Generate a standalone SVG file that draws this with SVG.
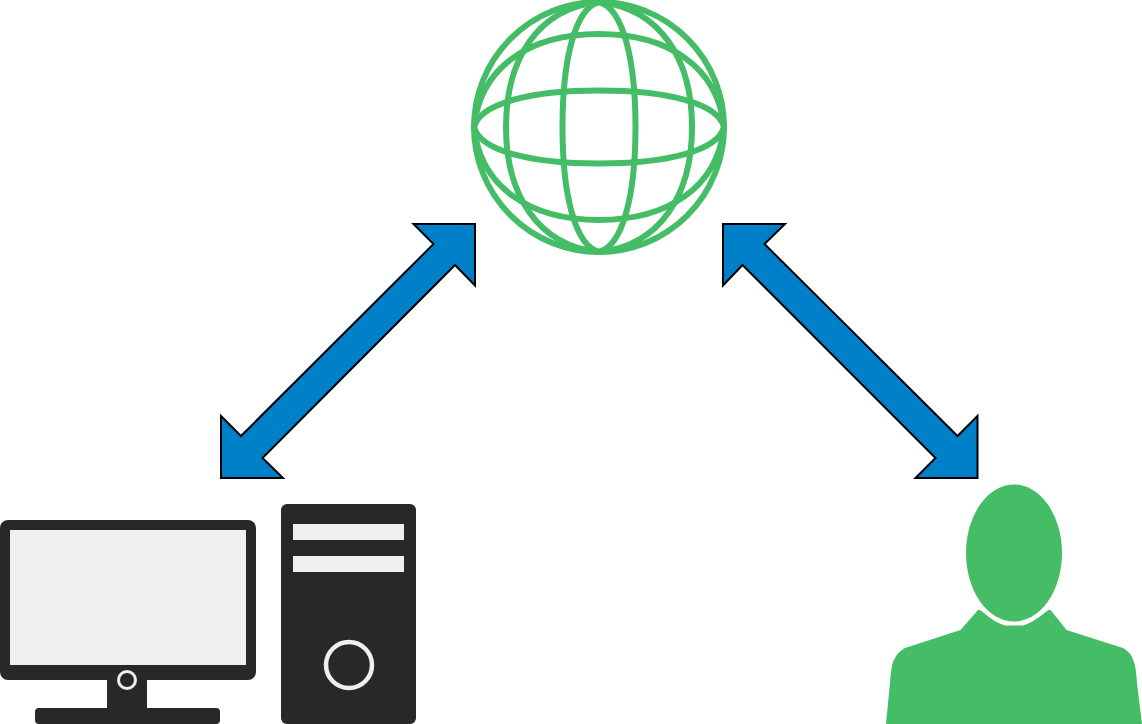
<svg xmlns="http://www.w3.org/2000/svg" width="1142" height="724" viewBox="0 0 1142 724">
  <style>
    .bg { fill: #ffffff; }
    .wire { fill: none; stroke: #44bd66; stroke-width: 6; }
    .green { fill: #44bd66; }
    .dark { fill: #282828; }
    .light { fill: #efefef; }
    .ring { fill: none; stroke: #efefef; }
    .arrow { fill: #0080c8; stroke: #000000; stroke-width: 2; stroke-miterlimit: 10; }
  </style>
  <rect class="bg" width="1142" height="724"/>
  <g id="connectors">
    <path class="arrow" d="M413.500 224 H475 V285.500 L455 265 L262.500 458 L283 478 H221 V416 L241 436 L433.500 244 Z"/>
    <path class="arrow" d="M723 224 H785 L764.500 244 L957.500 436 L977.500 416 V478 H915.500 L935.500 458 L742.500 265 L723 285.500 Z"/>
  </g>
  <g id="globe">
    <circle class="wire" cx="599" cy="127" r="125"/>
    <path class="wire" d="M599 2 C622.700 8.250 635.500 58.250 635.500 127 C635.500 195.750 622.700 245.750 599 252 C575.300 245.750 562.500 195.750 562.500 127 C562.500 58.250 575.300 8.250 599 2 Z"/>
    <path class="wire" d="M599 2 C659.450 8.250 692 58.250 692 127 C692 195.750 659.450 245.750 599 252 C538.550 245.750 506 195.750 506 127 C506 58.250 538.550 8.250 599 2 Z"/>
    <path class="wire" d="M724 127 C717.750 103.300 667.750 90.500 599 90.500 C530.250 90.500 480.250 103.300 474 127 C480.250 150.700 530.250 163.500 599 163.500 C667.750 163.500 717.750 150.700 724 127 Z"/>
    <path class="wire" d="M724 127 C717.750 66.550 667.750 34 599 34 C530.250 34 480.250 66.550 474 127 C480.250 187.450 530.250 220 599 220 C667.750 220 717.750 187.450 724 127 Z"/>
  </g>
  <g id="computer">
    <rect class="dark" x="107" y="675" width="40" height="36"/>
    <rect class="dark" x="0" y="520" width="256" height="160" rx="8"/>
    <rect class="light" x="10" y="530" width="236" height="135"/>
    <rect class="dark" x="35" y="708" width="185" height="16" rx="4"/>
    <circle class="ring" cx="127" cy="680" r="8.500" stroke-width="3"/>
    <rect class="dark" x="281" y="504" width="135" height="220" rx="6"/>
    <rect class="light" x="293" y="524" width="111" height="16"/>
    <rect class="light" x="293" y="556" width="111" height="16"/>
    <circle class="ring" cx="349" cy="665" r="23" stroke-width="4.500"/>
  </g>
  <g id="person">
    <ellipse class="green" cx="1014" cy="553" rx="48" ry="68.500"/>
    <path class="green" d="M886 724 L890 683 Q891 668 893 662 Q897 652 905 648 L960.500 630 L978 610 H980 C990 618 995 622 1005 625.500 H1023 C1033 622 1038 618 1048.500 610 H1050.500 L1066.500 630 L1123 648 Q1131 652 1134 662 Q1136 668 1137 683 L1142 724 Z"/>
  </g>
</svg>
